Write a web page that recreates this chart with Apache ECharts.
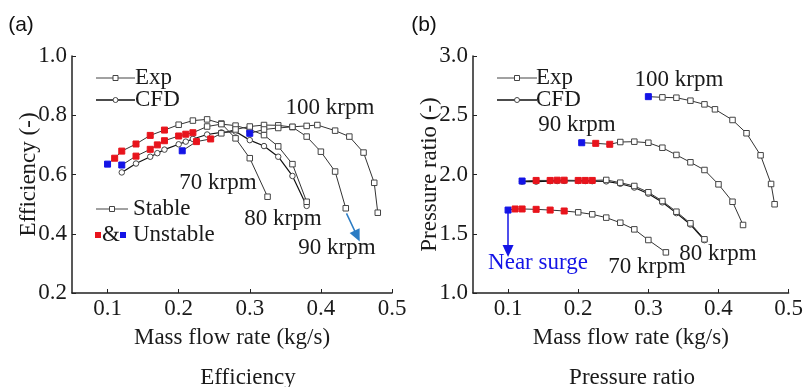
<!DOCTYPE html>
<html><head><meta charset="utf-8">
<script src="https://cdn.jsdelivr.net/npm/echarts@6/dist/echarts.min.js"></script>
<style>html,body{margin:0;padding:0;background:#fff}#c{width:806px;height:387px}</style>
</head><body><div id="c"></div>
<script>
// ---- data ----
const xTicks = [0.1, 0.2, 0.3, 0.4, 0.5];
const flow70 = [0.10,0.11,0.12,0.14,0.16,0.18,0.20,0.22,0.24,0.26,0.28,0.30,0.325];
const eff70  = [0.635,0.655,0.679,0.703,0.732,0.750,0.768,0.782,0.786,0.772,0.722,0.655,0.525];
const pr70   = [1.700,1.709,1.709,1.706,1.700,1.692,1.681,1.664,1.636,1.593,1.537,1.447,1.343];
const unstable70 = 6;

const flow80 = [0.12,0.14,0.16,0.17,0.18,0.20,0.21,0.22,0.24,0.26,0.28,0.30,0.32,0.34,0.36,0.38];
const eff80  = [0.632,0.662,0.685,0.700,0.714,0.730,0.736,0.741,0.762,0.770,0.765,0.752,0.733,0.695,0.635,0.508];
const pr80   = [1.945,1.950,1.950,1.952,1.952,1.950,1.950,1.950,1.954,1.931,1.903,1.850,1.776,1.686,1.588,1.453];
const unstable80 = 8;
const effCfd80 = [0.607,0.637,0.660,0.672,0.684,0.702,0.711,0.720,0.735,0.742,0.745,0.716,0.696,0.660,0.595,0.494];
const prCfd80  = [1.940,1.940,1.944,1.945,1.946,1.945,1.945,1.944,1.942,1.922,1.890,1.838,1.765,1.674,1.578,1.446];

const flow90 = [0.205,0.225,0.245,0.26,0.28,0.30,0.32,0.34,0.36,0.38,0.40,0.42,0.435];
const eff90  = [0.680,0.711,0.720,0.739,0.752,0.762,0.767,0.766,0.760,0.728,0.677,0.610,0.486];
const pr90   = [2.268,2.263,2.255,2.274,2.277,2.268,2.226,2.165,2.103,2.038,1.917,1.770,1.574];
const unstable90 = 3;

const flow100 = [0.30,0.32,0.34,0.36,0.38,0.395,0.42,0.44,0.46,0.475,0.48];
const eff100  = [0.739,0.752,0.757,0.761,0.764,0.767,0.748,0.728,0.674,0.572,0.471];
const pr100   = [2.657,2.651,2.648,2.623,2.592,2.550,2.460,2.348,2.162,1.920,1.749];
const unstable100 = 1;

const surgeArrowPR  = [[0.10, 1.70], [0.10, 1.355]];
const speedArrowEff = [[0.436, 0.469], [0.451, 0.392]];

// ---- styling / building ----
const SERIF = '"Liberation Serif","Times New Roman",serif';
const RED = '#e8141c', BLUE = '#1414e6';
const FS = 23;

function expData(flow, vals, nU) {
  return flow.map((f, i) => {
    const d = { value: [f, vals[i]] };
    if (i < nU) {
      const c = i === 0 ? BLUE : RED;
      d.itemStyle = { color: c, borderColor: c };
      d.symbolSize = 6;
    }
    return d;
  });
}
function expSeries(flow, vals, nU, gi) {
  return {
    type: 'line', xAxisIndex: gi, yAxisIndex: gi,
    data: expData(flow, vals, nU), symbol: 'rect', symbolSize: 5.5, z: 3,
    lineStyle: { color: '#333', width: 1 },
    itemStyle: { color: '#fff', borderColor: '#444', borderWidth: 1 },
    animation: false
  };
}
function cfdSeries(flow, vals, gi) {
  return {
    type: 'line', xAxisIndex: gi, yAxisIndex: gi,
    data: flow.map((f, i) => [f, vals[i]]), symbol: 'circle', symbolSize: 5.5, z: 2,
    lineStyle: { color: '#111', width: 1.2 },
    itemStyle: { color: '#fff', borderColor: '#444', borderWidth: 1 },
    animation: false
  };
}
function xAxis(gi) {
  return {
    type: 'value', gridIndex: gi, min: 0.05, max: 0.5,
    name: 'Mass flow rate (kg/s)', nameLocation: 'middle', nameGap: 33,
    nameTextStyle: { fontFamily: SERIF, fontSize: FS, color: '#1a1a1a' },
    axisLine: { lineStyle: { color: '#222', width: 1.5 } },
    axisTick: { show: true, inside: true, length: 4, customValues: xTicks, lineStyle: { color: '#222' } },
    axisLabel: { customValues: xTicks, fontFamily: SERIF, fontSize: FS, color: '#1a1a1a', margin: 4,
      formatter: v => v.toFixed(1) },
    splitLine: { show: false }
  };
}
function yAxis(gi, min, max, step, name, dec) {
  return {
    type: 'value', gridIndex: gi, min: min, max: max, interval: step,
    name: name, nameLocation: 'middle', nameGap: 32, nameMoveOverlap: false,
    nameTextStyle: { fontFamily: SERIF, fontSize: FS, color: '#1a1a1a' },
    axisLine: { show: true, lineStyle: { color: '#222', width: 1.5 } },
    axisTick: { show: true, inside: true, length: 4, lineStyle: { color: '#222' } },
    axisLabel: { fontFamily: SERIF, fontSize: FS, color: '#1a1a1a', margin: 5, formatter: v => v.toFixed(dec) },
    splitLine: { show: false }
  };
}
function txt(x, y, s, opt) {
  return { type: 'text', x: x, y: y, style: Object.assign({ text: s, font: FS + 'px ' + SERIF, fill: '#1a1a1a', align: 'center', verticalAlign: 'middle' }, opt || {}) };
}
function legendLine(x1, x2, y, sym, color, width) {
  const els = [{ type: 'line', shape: { x1: x1, y1: y, x2: x2, y2: y }, style: { stroke: color, lineWidth: width } }];
  const mx = (x1 + x2) / 2;
  if (sym === 'rect') els.push({ type: 'rect', shape: { x: mx - 2.5, y: y - 2.5, width: 5, height: 5 }, style: { fill: '#fff', stroke: '#444', lineWidth: 1 } });
  else els.push({ type: 'circle', shape: { cx: mx, cy: y, r: 2.5 }, style: { fill: '#fff', stroke: '#444', lineWidth: 1 } });
  return els;
}

const arrowLine = (coords, color) => ({
  silent: true, symbol: ['none', 'triangle'], symbolSize: [11, 12], animation: false,
  label: { show: false },
  lineStyle: { color: color, width: 1.5, type: 'solid' },
  data: [[{ coord: coords[0] }, { coord: coords[1] }]]
});

const series = [
  expSeries(flow70, eff70, unstable70, 0),
  cfdSeries(flow80, effCfd80, 0),
  expSeries(flow80, eff80, unstable80, 0),
  expSeries(flow90, eff90, unstable90, 0),
  expSeries(flow100, eff100, unstable100, 0),
  expSeries(flow70, pr70, unstable70, 1),
  cfdSeries(flow80, prCfd80, 1),
  expSeries(flow80, pr80, unstable80, 1),
  expSeries(flow90, pr90, unstable90, 1),
  expSeries(flow100, pr100, unstable100, 1)
];
series[4].markLine = arrowLine(speedArrowEff, '#2b7cc4');
series[5].markLine = arrowLine(surgeArrowPR, BLUE);

const graphic = [
  txt(21, 25, '(a)', { font: '21px "Liberation Sans",Arial,sans-serif', fill: '#111' }),
  txt(424, 25, '(b)', { font: '21px "Liberation Sans",Arial,sans-serif', fill: '#111' }),
  txt(248, 378, 'Efficiency'),
  txt(632, 378, 'Pressure ratio'),
  // left labels
  txt(330, 108, '100 krpm'),
  txt(218, 183, '70 krpm'),
  txt(283, 219, '80 krpm'),
  txt(337, 248, '90 krpm'),
  // right labels
  txt(679, 80, '100 krpm'),
  txt(577, 125, '90 krpm'),
  txt(718, 254, '80 krpm'),
  txt(647, 267, '70 krpm'),
  txt(538, 263, 'Near surge', { fill: BLUE }),
  // legends left
  ...legendLine(96, 135, 78, 'rect', '#444', 1),
  txt(135, 78, 'Exp', { align: 'left' }),
  ...legendLine(96, 135, 100, 'circle', '#111', 1.5),
  txt(135, 100, 'CFD', { align: 'left' }),
  ...legendLine(96, 128, 209, 'rect', '#444', 1),
  txt(133, 209, 'Stable', { align: 'left' }),
  { type: 'rect', shape: { x: 95, y: 232, width: 6, height: 6 }, style: { fill: RED } },
  txt(111, 235, '&'),
  { type: 'rect', shape: { x: 120, y: 232, width: 6, height: 6 }, style: { fill: BLUE } },
  txt(133, 235, 'Unstable', { align: 'left' }),
  // legends right
  ...legendLine(497, 537, 78, 'rect', '#444', 1),
  txt(536, 78, 'Exp', { align: 'left' }),
  ...legendLine(497, 537, 100, 'circle', '#111', 1.5),
  txt(536, 100, 'CFD', { align: 'left' })
];

const chart = echarts.init(document.getElementById('c'), null, { renderer: 'canvas' });
chart.setOption({
  backgroundColor: '#fff',
  animation: false,
  grid: [
    { left: 72, top: 56, width: 320, height: 237 },
    { left: 473, top: 56, width: 320, height: 237 }
  ],
  xAxis: [xAxis(0), xAxis(1)],
  yAxis: [yAxis(0, 0.2, 1.0, 0.2, 'Efficiency (-)', 1), yAxis(1, 1.0, 3.0, 0.5, 'Pressure ratio (-)', 1)],
  series: series,
  graphic: graphic
});
</script></body></html>
